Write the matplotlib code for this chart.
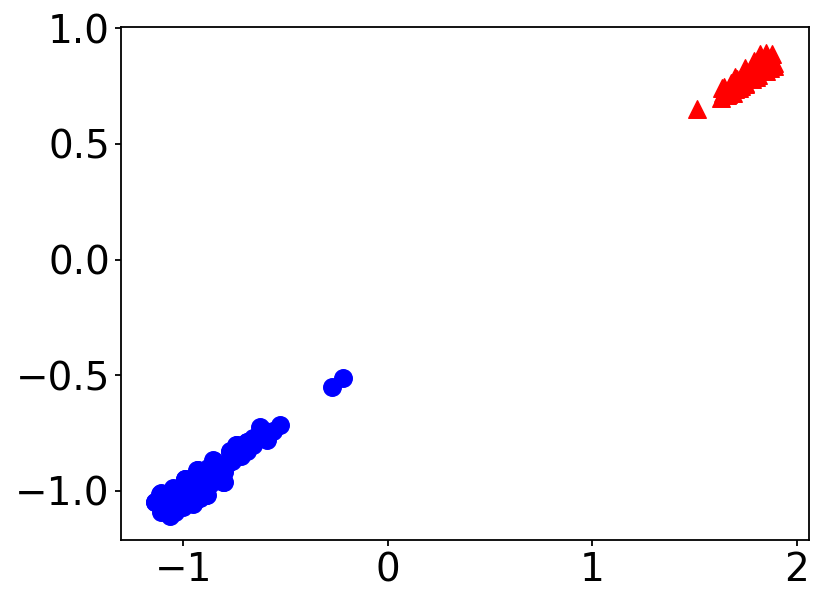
import matplotlib
matplotlib.use("Agg")
import matplotlib.pyplot as plt

# blue circles (cluster near -1,-1)
blue_x = [-1.14, -1.11, -1.11, -1.065, -1.08, -1.05, -1.05, -1.02, -1.0, -1.0,
          -0.99, -0.97, -0.95, -0.95, -0.93, -0.93, -0.92, -0.90, -0.89, -0.88,
          -0.87, -0.85, -0.85, -0.83, -0.80, -0.82, -0.77, -0.76, -0.74, -0.72,
          -0.69, -0.69, -0.66, -0.625, -0.59, -0.60, -0.527, -0.273, -0.218,
          -1.08, -1.03, -0.98, -0.96, -0.91, -0.90, -0.86, -0.84, -0.80, -0.78,
          -0.75, -0.72, -0.71, -0.66, -0.63, -0.56, -1.10, -1.04, -0.99, -0.94,
          -0.93, -0.885, -0.804, -0.853, -0.772, -0.992, -1.049, -1.114, -1.138,
          -0.934, -0.739, -0.69, -0.951]
blue_y = [-1.05, -1.01, -1.09, -1.11, -1.06, -1.03, -0.99, -1.07, -1.07, -1.02,
          -0.95, -0.99, -1.05, -1.00, -0.91, -0.96, -1.03, -0.94, -1.02, -0.90,
          -0.97, -0.87, -0.93, -0.95, -0.96, -0.89, -0.83, -0.87, -0.80, -0.85,
          -0.79, -0.83, -0.80, -0.725, -0.78, -0.74, -0.717, -0.55, -0.511,
          -1.03, -1.05, -1.03, -0.97, -0.99, -0.92, -0.95, -0.91, -0.92, -0.88,
          -0.84, -0.82, -0.80, -0.77, -0.76, -0.74, -1.07, -1.09, -0.99, -1.02,
          -0.94, -1.02, -0.963, -0.869, -0.833, -0.948, -0.991, -1.013, -1.049,
          -0.912, -0.804, -0.79, -1.056]

# red triangles (cluster near 1.7,0.8)
red_x = [1.515, 1.63, 1.64, 1.645, 1.66, 1.67, 1.68, 1.69, 1.70, 1.71,
         1.72, 1.73, 1.74, 1.75, 1.76, 1.77, 1.78, 1.79, 1.80, 1.81,
         1.82, 1.82, 1.83, 1.84, 1.85, 1.85, 1.86, 1.87, 1.88, 1.89, 1.87,
         1.70, 1.75, 1.80, 1.85, 1.89, 1.70, 1.75, 1.79, 1.636, 1.665, 1.73]
red_y = [0.649, 0.70, 0.72, 0.745, 0.71, 0.74, 0.765, 0.72, 0.75, 0.78,
         0.74, 0.77, 0.80, 0.76, 0.79, 0.82, 0.78, 0.81, 0.84, 0.80,
         0.83, 0.89, 0.86, 0.82, 0.895, 0.85, 0.87, 0.83, 0.89, 0.85, 0.86,
         0.737, 0.764, 0.79, 0.817, 0.835, 0.79, 0.83, 0.86, 0.742, 0.715, 0.752]

fig = plt.figure(figsize=(8.3, 6.05), dpi=100)
ax = fig.add_axes([0.1458, 0.1074, 0.8289, 0.8485])

ax.scatter(blue_x, blue_y, c="blue", marker="o", s=160)
ax.scatter(red_x, red_y, c="red", marker="^", s=160)

ax.set_xlim(-1.305, 2.061)
ax.set_ylim(-1.213, 1.007)
ax.set_xticks([-1, 0, 1, 2])
ax.set_yticks([-1.0, -0.5, 0.0, 0.5, 1.0])
ax.tick_params(labelsize=28, length=4.5, width=1.3)
for sp in ax.spines.values():
    sp.set_linewidth(1.3)

fig.savefig("out.png", dpi=100)
